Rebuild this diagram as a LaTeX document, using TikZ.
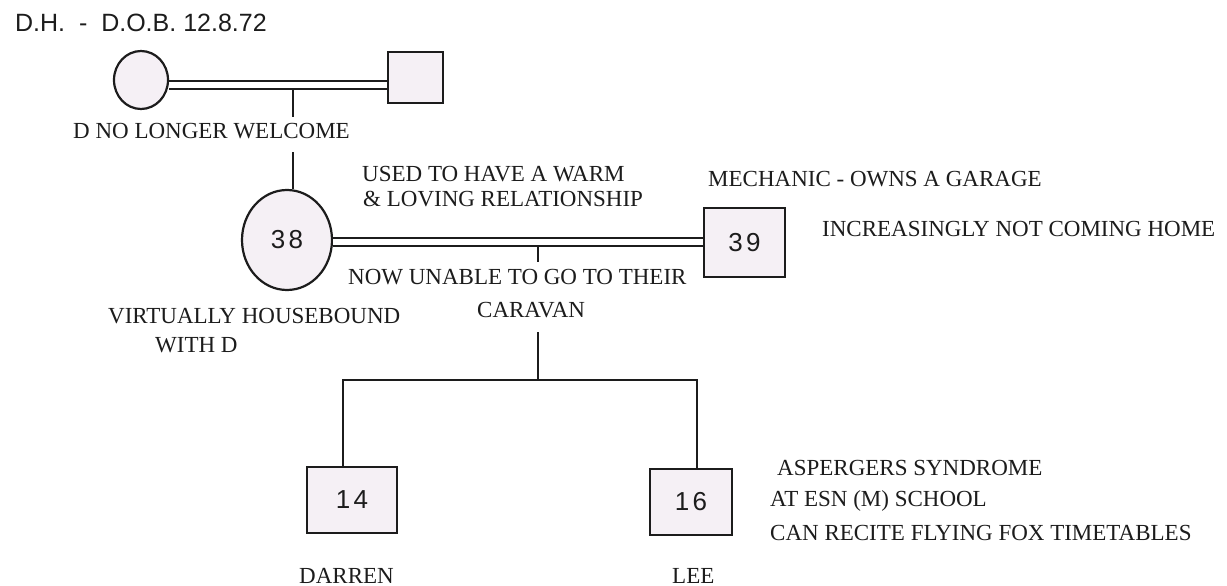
\documentclass[tikz,border=0pt]{standalone}
\usepackage{fontspec}
\setmainfont{Liberation Serif}
\newfontfamily\hdfont{Liberation Sans}
\newfontfamily\numfont{Liberation Sans}[LetterSpace=12]
\usetikzlibrary{shapes.geometric}
\definecolor{ink}{HTML}{1C1C1C}
\definecolor{shapefill}{HTML}{F5F0F5}
\begin{document}
\begin{tikzpicture}[x=1pt,y=-1pt,
  person/.style={draw=ink,fill=shapefill,line width=2.2pt,inner sep=0pt,
    font=\numfont\fontsize{26}{28}\selectfont,text=ink},
  female/.style={person,ellipse},
  male/.style={person,rectangle},
  couple/.style={draw=ink,line width=2pt,double=white,double distance=6pt},
  link/.style={draw=ink,line width=2pt},
  note/.style={anchor=base west,inner sep=0pt,text=ink,font=\fontsize{23}{26}\selectfont},
]
\useasboundingbox (0,0) rectangle (1227,586);
\fill[white] (0,0) rectangle (1227,586);

% title
\node[anchor=base west,inner sep=0pt,text=ink,font=\hdfont\fontsize{25}{28}\selectfont] (title) at (15,32) {D.H.\ \ -\ \ D.O.B. 12.8.72};

% grandparents
\node[female,minimum width=54pt,minimum height=58pt] (gm) at (141,80) {};
\node[male,minimum width=55pt,minimum height=51pt] (gf) at (415.5,77.5) {};
\coordinate (m1) at (0,85.5);
\path[couple] (gm.east |- m1) -- (gf.west |- m1);
\coordinate (d1) at (293,90);
\coordinate (d1e) at (293,117);
\path[link] (d1) -- (d1e);
\node[note] (nowel) at (73,139) {D NO LONGER WELCOME};

% parents
\node[female,minimum width=90pt,minimum height=100pt] (mum) at (287,240) {38};
\node[male,minimum width=81pt,minimum height=69pt] (dad) at (744.5,242.5) {39};
\coordinate (d2) at (293,152);
\path[link] (d2) -- (d2 |- mum.north);
\coordinate (m2) at (0,241.5);
\path[couple] (mum.east |- m2) -- (dad.west |- m2);
\coordinate (d3) at (538,246.5);
\coordinate (d3e) at (538,262);
\path[link] (d3) -- (d3e);

\node[note] (warm1) at (362,181) {USED TO HAVE A WARM};
\node[note] (warm2) at (363,206) {\& LOVING RELATIONSHIP};
\node[note] (mech) at (708,186) {MECHANIC - OWNS A GARAGE};
\node[note] (incr) at (822,236) {INCREASINGLY NOT COMING HOME};
\node[note] (unable) at (348,284) {NOW UNABLE TO GO TO THEIR};
\node[note] (carav) at (477,317) {CARAVAN};
\node[note] (house1) at (108,323) {VIRTUALLY HOUSEBOUND};
\node[note] (house2) at (155,352) {WITH D};

% children
\node[male,minimum width=90pt,minimum height=66pt] (darren) at (352,500) {14};
\node[male,minimum width=82pt,minimum height=66pt] (lee) at (691,502) {16};
\coordinate (d4) at (538,332);
\coordinate (j) at (538,380);
\coordinate (jl) at (343,380);
\coordinate (jr) at (697,380);
\path[link] (d4) -- (j);
\path[link] (jl |- darren.north) -- (jl) -- (jr) -- (jr |- lee.north);

\node[note] (dname) at (299,583) {DARREN};
\node[note] (lname) at (672,583) {LEE};
\node[note] (asp1) at (777,475) {ASPERGERS SYNDROME};
\node[note] (asp2) at (770,506) {AT ESN (M) SCHOOL};
\node[note] (asp3) at (770,540) {CAN RECITE FLYING FOX TIMETABLES};
\end{tikzpicture}
\end{document}
